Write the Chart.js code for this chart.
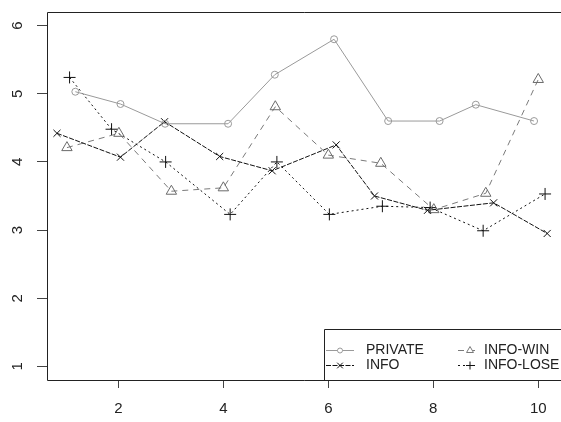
<!DOCTYPE html>
<html>
<head>
<meta charset="utf-8">
<script src="https://cdn.jsdelivr.net/npm/chart.js@4.4.1/dist/chart.umd.min.js"></script>
<style>
  body { margin: 0; background: #fff; }
  #wrap { width: 561px; height: 422px; }
</style>
</head>
<body>
<div id="wrap"><canvas id="chart" width="561" height="422"></canvas></div>
<script>
// series data (x is slightly jittered around the round number, as in the picture)
const seriesNames = ['PRIVATE', 'INFO', 'INFO-WIN', 'INFO-LOSE'];

const privateX = [1.18, 2.04, 2.89, 4.09, 4.98, 6.11, 7.14, 8.12, 8.81, 9.92];
const privateY = [5.03, 4.85, 4.56, 4.56, 5.28, 5.80, 4.60, 4.60, 4.84, 4.60];

const infoX = [0.83, 2.04, 2.88, 3.93, 4.93, 6.15, 6.88, 7.89, 9.15, 10.17];
const infoY = [4.42, 4.07, 4.59, 4.08, 3.87, 4.25, 3.50, 3.29, 3.40, 2.95];

const infoWinX = [1.02, 2.01, 3.01, 4.00, 4.99, 6.00, 7.00, 8.01, 9.00, 10.00];
const infoWinY = [4.21, 4.42, 3.57, 3.62, 4.81, 4.10, 3.98, 3.30, 3.54, 5.21];

const infoLoseX = [1.07, 1.87, 2.90, 4.13, 5.02, 6.02, 7.03, 7.94, 8.95, 10.13];
const infoLoseY = [5.24, 4.48, 4.00, 3.23, 4.00, 3.23, 3.35, 3.33, 2.99, 3.53];

const xTicks = [2, 4, 6, 8, 10];
const yTicks = [1, 2, 3, 4, 5, 6];

function pts(xs, ys) {
    return xs.map((x, i) => ({ x: x, y: ys[i] }));
}

const FONT = 'Arial, "Liberation Sans", sans-serif';

// frame, rotated y labels and the boxed legend, R style
const rStylePlugin = {
    id: 'rStyle',
    afterDraw(chart) {
        const ctx = chart.ctx;
        const area = chart.chartArea;
        ctx.save();
        ctx.strokeStyle = '#222';
        ctx.lineWidth = 1;
        ctx.setLineDash([]);
        ctx.beginPath();
        ctx.moveTo(chart.width + 2, Math.round(area.top) + 0.5);
        ctx.lineTo(Math.round(area.left) + 0.5, Math.round(area.top) + 0.5);
        ctx.lineTo(Math.round(area.left) + 0.5, Math.round(area.bottom) + 0.5);
        ctx.lineTo(chart.width + 2, Math.round(area.bottom) + 0.5);
        ctx.stroke();

        // y labels, reading upwards
        const ys = chart.scales.y;
        ctx.fillStyle = '#222';
        ctx.font = '15px ' + FONT;
        ctx.textAlign = 'center';
        ctx.textBaseline = 'middle';
        ys.ticks.forEach(t => {
            const py = ys.getPixelForValue(t.value);
            ctx.save();
            ctx.translate(18, py);
            ctx.rotate(-Math.PI / 2);
            ctx.fillText(String(t.value), 0, 0);
            ctx.restore();
        });

        // legend
        const boxLeft = 324.5, boxTop = 329.5;
        ctx.strokeStyle = '#222';
        ctx.beginPath();
        ctx.moveTo(boxLeft, Math.round(area.bottom) + 0.5);
        ctx.lineTo(boxLeft, boxTop);
        ctx.lineTo(chart.width + 2, boxTop);
        ctx.stroke();

        const cols = [{ x0: 326, x1: 354, sym: 340, text: 366 },
                      { x0: 458, x1: 478, sym: 470, text: 484 }];
        const rows = [350, 365];
        chart.data.datasets.forEach((ds, i) => {
            const c = cols[Math.floor(i / 2)];
            const ry = rows[i % 2] + 0.5;
            ctx.strokeStyle = ds.borderColor;
            ctx.lineWidth = 1;
            ctx.setLineDash(ds.borderDash || []);
            ctx.beginPath();
            ctx.moveTo(c.x0, ry);
            ctx.lineTo(c.x1, ry);
            ctx.stroke();
            ctx.setLineDash([]);
            ctx.fillStyle = '#fff';
            Chart.helpers.drawPoint(ctx, {
                pointStyle: ds.pointStyle,
                radius: ds.pointStyle === 'circle' ? 2.5 : 4,
                borderWidth: 1,
                rotation: 0
            }, c.sym, ry);
            ctx.fillStyle = '#222';
            ctx.font = '14px ' + FONT;
            ctx.textAlign = 'left';
            ctx.textBaseline = 'middle';
            ctx.fillText(seriesNames[i], c.text, ry);
        });
        ctx.restore();
    }
};

const ctx = document.getElementById('chart').getContext('2d');

new Chart(ctx, {
    type: 'line',
    data: {
        datasets: [
            {
                label: seriesNames[0],
                data: pts(privateX, privateY),
                borderColor: '#9a9a9a',
                borderWidth: 1,
                pointStyle: 'circle',
                pointRadius: 3.5,
                pointBorderColor: '#9a9a9a',
                pointBackgroundColor: 'rgba(0,0,0,0)',
                pointBorderWidth: 1
            },
            {
                label: seriesNames[1],
                data: pts(infoX, infoY),
                borderColor: '#111',
                borderWidth: 1,
                borderDash: [5, 1.5],
                pointStyle: 'crossRot',
                pointRadius: 5,
                pointBorderColor: '#111',
                pointBackgroundColor: 'rgba(0,0,0,0)',
                pointBorderWidth: 1
            },
            {
                label: seriesNames[2],
                data: pts(infoWinX, infoWinY),
                borderColor: '#7a7a7a',
                borderWidth: 1,
                borderDash: [6, 5],
                pointStyle: 'triangle',
                pointRadius: 6,
                pointBorderColor: '#6a6a6a',
                pointBackgroundColor: 'rgba(0,0,0,0)',
                pointBorderWidth: 1
            },
            {
                label: seriesNames[3],
                data: pts(infoLoseX, infoLoseY),
                borderColor: '#111',
                borderWidth: 1,
                borderDash: [2, 3],
                pointStyle: 'cross',
                pointRadius: 6,
                pointBorderColor: '#111',
                pointBackgroundColor: 'rgba(0,0,0,0)',
                pointBorderWidth: 1
            }
        ]
    },
    options: {
        responsive: false,
        animation: false,
        layout: { padding: { top: 12, right: 0, left: 0, bottom: 0 } },
        plugins: {
            legend: { display: false },
            tooltip: { enabled: false }
        },
        elements: { line: { tension: 0, fill: false } },
        scales: {
            x: {
                type: 'linear',
                min: 0.64,
                max: 10.3,
                afterBuildTicks: s => { s.ticks = xTicks.map(v => ({ value: v })); },
                afterFit: s => { s.height = 42; },
                border: { display: false },
                grid: { drawOnChartArea: false, drawTicks: true, tickLength: 8, color: '#444' },
                ticks: { color: '#222', font: { size: 15, family: FONT }, padding: 12, maxRotation: 0 }
            },
            y: {
                type: 'linear',
                min: 0.8,
                max: 6.2,
                afterBuildTicks: s => { s.ticks = yTicks.map(v => ({ value: v })); },
                afterFit: s => { s.width = 47; },
                border: { display: false },
                grid: { drawOnChartArea: false, drawTicks: true, tickLength: 10, color: '#444' },
                ticks: { display: false }
            }
        }
    },
    plugins: [rStylePlugin]
});
</script>
</body>
</html>
